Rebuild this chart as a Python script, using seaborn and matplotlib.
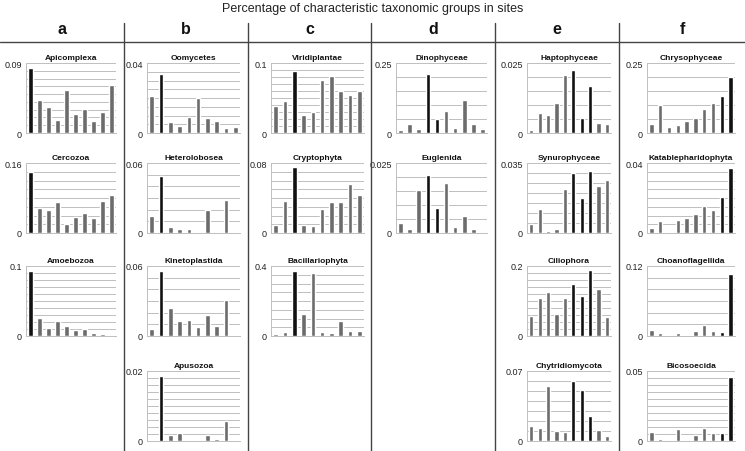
import numpy as np
import pandas as pd
import seaborn as sns
import matplotlib.pyplot as plt

sns.set_style("white")
plt.rcParams['font.family'] = ['Liberation Sans', 'DejaVu Sans']

sites = list(range(1, 11))

# column a
apicomplexa = [0.083, 0.042, 0.034, 0.017, 0.055, 0.024, 0.031, 0.016, 0.027, 0.062]
cercozoa = [0.139, 0.058, 0.053, 0.071, 0.021, 0.036, 0.045, 0.034, 0.073, 0.086]
amoebozoa = [0.093, 0.026, 0.011, 0.022, 0.014, 0.008, 0.0097, 0.005, 0.0024, 0.002]
# column b
oomycetes = [0.021, 0.034, 0.0065, 0.0038, 0.009, 0.020, 0.0084, 0.0069, 0.0029, 0.0032]
heterolobosea = [0.015, 0.049, 0.005, 0.0034, 0.0037, 0.001, 0.020, 0.001, 0.028, 0.0003]
kinetoplastida = [0.0058, 0.056, 0.024, 0.0125, 0.0137, 0.0079, 0.018, 0.0084, 0.031, 0.0006]
apusozoa = [0.0004, 0.0185, 0.0016, 0.0023, 0.0, 0.0002, 0.0017, 0.0006, 0.0057, 0.0]
# column c
viridiplantae = [0.038, 0.046, 0.088, 0.026, 0.030, 0.076, 0.081, 0.060, 0.054, 0.060]
cryptophyta = [0.0086, 0.037, 0.076, 0.0086, 0.008, 0.027, 0.036, 0.036, 0.056, 0.044]
bacillariophyta = [0.012, 0.023, 0.369, 0.125, 0.36, 0.025, 0.019, 0.085, 0.029, 0.029]
# column d
dinophyceae = [0.0095, 0.033, 0.013, 0.21, 0.049, 0.077, 0.019, 0.119, 0.032, 0.014]
euglenida = [0.0034, 0.0013, 0.0154, 0.0207, 0.009, 0.018, 0.0023, 0.0062, 0.0016, 0.0004]
# column e
haptophyceae = [0.0011, 0.007, 0.0063, 0.0106, 0.0208, 0.0224, 0.0052, 0.0169, 0.0036, 0.0032]
synurophyceae = [0.0047, 0.0122, 0.0012, 0.0019, 0.0218, 0.0298, 0.0176, 0.0308, 0.0233, 0.0264]
ciliophora = [0.056, 0.11, 0.125, 0.0625, 0.11, 0.149, 0.113, 0.1875, 0.133, 0.053]
chytridiomycota = [0.0154, 0.0134, 0.0546, 0.0097, 0.0087, 0.0596, 0.0512, 0.0248, 0.0114, 0.0054]
# column f
chrysophyceae = [0.033, 0.101, 0.021, 0.029, 0.044, 0.052, 0.085, 0.107, 0.131, 0.20]
katablepharidophyta = [0.0029, 0.007, 0.0, 0.0073, 0.0087, 0.0108, 0.0153, 0.0133, 0.0203, 0.0369]
choanoflagellida = [0.0098, 0.0058, 0.0005, 0.0052, 0.0023, 0.0087, 0.019, 0.0087, 0.0063, 0.1056]
bicosoecida = [0.0065, 0.0017, 0.0008, 0.0086, 0.001, 0.0045, 0.009, 0.0055, 0.0055, 0.046]

col_letters = ["a", "b", "c", "d", "e", "f"]
# sites drawn in black for each column
black_sites = [[1], [2], [3], [4, 5], [6, 7, 8], [9, 10]]

# (name, values, axis max label, grid step)
columns = [
    [("Apicomplexa", apicomplexa, "0.09", 0.01),
     ("Cercozoa", cercozoa, "0.16", 0.02),
     ("Amoebozoa", amoebozoa, "0.1", 0.01)],
    [("Oomycetes", oomycetes, "0.04", 0.005),
     ("Heterolobosea", heterolobosea, "0.06", 0.01),
     ("Kinetoplastida", kinetoplastida, "0.06", 0.01),
     ("Apusozoa", apusozoa, "0.02", 0.002)],
    [("Viridiplantae", viridiplantae, "0.1", 0.01),
     ("Cryptophyta", cryptophyta, "0.08", 0.01),
     ("Bacillariophyta", bacillariophyta, "0.4", 0.05)],
    [("Dinophyceae", dinophyceae, "0.25", 0.05),
     ("Euglenida", euglenida, "0.025", 0.005)],
    [("Haptophyceae", haptophyceae, "0.025", 0.005),
     ("Synurophyceae", synurophyceae, "0.035", 0.005),
     ("Ciliophora", ciliophora, "0.2", 0.02),
     ("Chytridiomycota", chytridiomycota, "0.07", 0.01)],
    [("Chrysophyceae", chrysophyceae, "0.25", 0.05),
     ("Katablepharidophyta", katablepharidophyta, "0.04", 0.005),
     ("Choanoflagellida", choanoflagellida, "0.12", 0.02),
     ("Bicosoecida", bicosoecida, "0.05", 0.005)],
]

W, H = 745, 452
fig = plt.figure(figsize=(W / 100, H / 100), dpi=100)

col_left = [0, 124, 248, 371, 495, 619]
ax_off = [26, 23, 23, 25, 32, 28]
row_top = [64, 164, 267, 372]
ax_h = 70

fig.text(0.5, 1 - 9 / H, "Percentage of characteristic taxonomic groups in sites",
         ha="center", va="center", fontsize=9, color="#222222")

# header line and column dividers
fig.add_artist(plt.Line2D([0, 1], [1 - 43 / H, 1 - 43 / H], color="#444444", lw=1.0))
for xl in col_left[1:]:
    fig.add_artist(plt.Line2D([xl / W, xl / W], [0, 1 - 24 / H], color="#444444", lw=1.0))

for ci, panels in enumerate(columns):
    cx = col_left[ci]
    cw = (col_left[ci + 1] if ci < 5 else W) - cx
    fig.text((cx + cw / 2) / W, 1 - 29 / H, col_letters[ci], ha="center", va="center",
             fontsize=11.5, fontweight="bold", color="#111111")
    for ri, (name, vals, top_lbl, step) in enumerate(panels):
        left = cx + ax_off[ci]
        right = cx + 116
        ax = fig.add_axes([left / W, 1 - (row_top[ri] + ax_h) / H,
                           (right - left) / W, ax_h / H])
        df = pd.DataFrame({
            "site": sites,
            "value": vals,
            "group": ["hi" if s in black_sites[ci] else "lo" for s in sites],
        })
        sns.barplot(data=df, x="site", y="value", hue="group",
                    palette={"hi": "#111111", "lo": "#6c6c6c"},
                    width=0.5, dodge=False, legend=False, ax=ax)
        ymax = float(top_lbl)
        ticks = np.arange(0, ymax + step / 2, step)
        ax.set_ylim(0, ymax)
        ax.set_xlim(-0.5, 9.5)
        ax.set_yticks(ticks)
        ax.set_yticklabels(["0"] + [""] * (len(ticks) - 2) + [top_lbl])
        ax.yaxis.grid(True, color="#bfbfbf", lw=0.7)
        ax.set_axisbelow(True)
        ax.set_xticks([])
        ax.set_xlabel("")
        ax.set_ylabel("")
        ax.tick_params(axis="y", length=0, pad=3, labelsize=6.5, labelcolor="#222222")
        for s in ["top", "right"]:
            ax.spines[s].set_visible(False)
        for s in ["left", "bottom"]:
            ax.spines[s].set_color("#bfbfbf")
            ax.spines[s].set_linewidth(0.7)
        ax.set_title(name, fontsize=6, fontweight="bold", pad=3, color="#111111")

fig.savefig("out.png", dpi=100)
